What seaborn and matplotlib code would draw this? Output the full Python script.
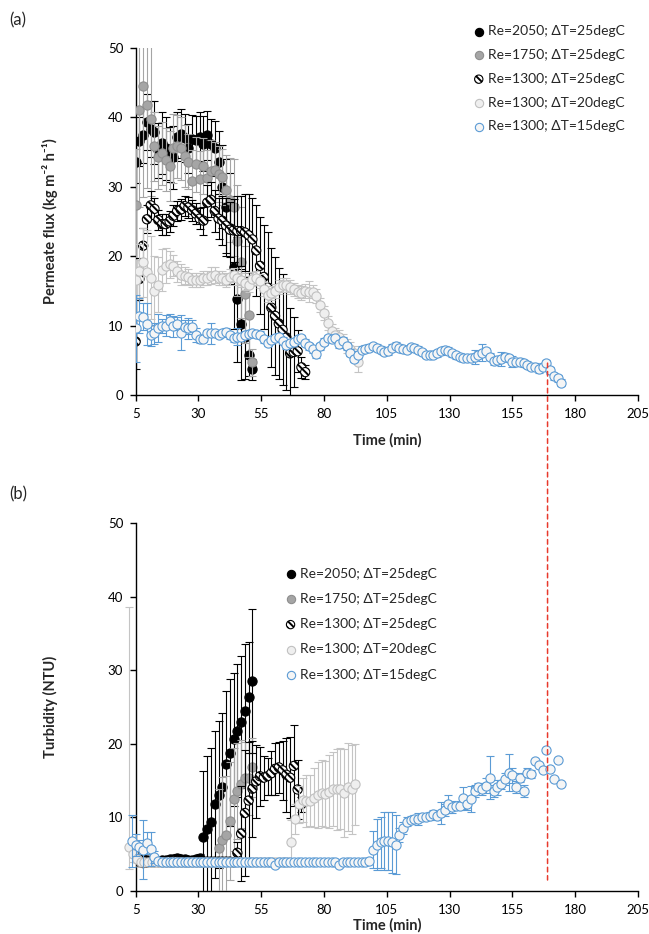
import numpy as np
import matplotlib
matplotlib.use("Agg")
import matplotlib.pyplot as plt
import seaborn as sns
from matplotlib.patches import ConnectionPatch

sns.set_style("ticks")
plt.rcParams["font.family"] = ["Lato", "DejaVu Sans"]
plt.rcParams["hatch.linewidth"] = 1.4
plt.rcParams["hatch.color"] = "black"

# samples were logged every 1.5 min
STEP = 1.5

labels = ["Re=2050; ΔT=25degC", "Re=1750; ΔT=25degC", "Re=1300; ΔT=25degC",
          "Re=1300; ΔT=20degC", "Re=1300; ΔT=15degC"]

# ---------- (a) permeate flux ----------
flux_2050_t0 = 5
flux_2050 = [33.5, 36.5, 37.4, 39.3, 38.3, 37.8, 35.2, 36.3, 35.5, 34.6,
             34.2, 37.2, 37.6, 37.0, 35.5, 36.8, 36.7, 37.2, 36.2, 37.4,
             36.2, 35.5, 33.5, 30.0, 27.0, 24.0, 18.5, 13.8, 10.2, 8.3,
             5.8, 3.7]
flux_2050_err = [3.0, 3.5, 4.0, 4.0, 4.0, 4.5, 4.0, 4.5, 4.5, 4.0,
                 4.5, 3.5, 3.5, 3.5, 3.5, 3.5, 3.5, 3.5, 4.0, 3.5,
                 3.5, 4.0, 4.5, 6.0, 7.0, 8.0, 9.0, 9.0, 8.0, 6.0,
                 3.0, 1.5]

flux_1750_t0 = 5
flux_1750 = [27.4, 41.0, 44.5, 41.8, 39.7, 35.8, 34.2, 34.8, 33.9, 33.0,
             35.5, 35.8, 35.5, 34.4, 33.6, 30.8, 33.2, 31.1, 33.0, 31.2,
             32.2, 32.4, 31.8, 31.4, 29.5, 28.1, 27.0, 22.2, 19.1, 14.5,
             11.5, 4.7]
flux_1750_err = [8.0, 14.0, 16.0, 12.0, 11.0, 5.0, 4.5, 4.5, 4.5, 5.0,
                 5.0, 4.5, 4.5, 4.5, 4.0, 4.5, 4.0, 4.0, 4.0, 4.0,
                 4.5, 4.0, 4.0, 4.0, 5.0, 6.0, 7.0, 8.0, 8.0, 7.0,
                 6.0, 2.0]

flux_1300_25_t0 = 5
flux_1300_25 = [7.7, 16.7, 21.5, 25.3, 27.3, 26.8, 25.2, 24.6, 24.6, 25.0,
                25.8, 26.5, 26.7, 27.2, 27.0, 26.6, 26.1, 25.4, 25.1, 27.7,
                28.1, 26.5, 25.4, 25.1, 24.4, 23.8, 23.7, 23.6, 23.6, 23.4,
                23.0, 22.4, 20.8, 18.6, 17.0, 15.5, 12.6, 11.4, 10.3, 9.4,
                8.3, 6.0, 6.2, 6.3, 4.0, 3.3]
flux_1300_25_err = [4.0, 3.0, 2.5, 2.0, 2.0, 1.5, 1.5, 1.5, 1.5, 1.5,
                    1.5, 1.5, 1.5, 1.5, 1.5, 1.5, 1.5, 1.5, 2.0, 2.5,
                    2.5, 3.0, 3.0, 3.5, 4.0, 4.0, 4.5, 5.0, 5.0, 5.5,
                    6.0, 6.0, 6.5, 7.0, 7.5, 8.0, 8.5, 8.5, 8.0, 8.0,
                    7.5, 6.5, 5.0, 3.0, 1.5, 1.0]

flux_1300_20_t0 = 5
flux_1300_20 = [16.5, 17.8, 19.1, 17.7, 16.9, 15.0, 15.9, 18.0, 18.6, 18.8,
                18.6, 17.8, 17.3, 17.2, 17.0, 16.6, 16.6, 16.6, 16.8, 16.9,
                17.2, 17.3, 16.9, 16.8, 16.6, 17.0, 17.3, 16.8, 16.6, 16.1,
                15.9, 16.7, 16.9, 16.4, 15.3, 14.4, 14.7, 15.0, 15.5, 15.8,
                15.9, 15.5, 15.2, 14.9, 14.7, 15.0, 14.9, 14.9, 14.2, 13.0,
                11.8, 10.4, 9.2, 8.6, 8.3, 7.8, 7.1, 6.6, 6.0, 4.8]
flux_1300_20_err = [3.0, 4.0, 5.0, 6.0, 6.0, 5.0, 4.0, 3.0, 2.5, 2.0,
                    1.5, 1.5, 1.5, 1.2, 1.2, 1.0, 1.0, 1.0, 1.0, 1.0,
                    1.2, 1.2, 1.0, 1.0, 1.0, 1.2, 1.0, 1.0, 1.0, 1.0,
                    1.0, 1.0, 1.0, 1.0, 1.0, 1.0, 1.0, 1.0, 1.0, 1.0,
                    1.0, 1.0, 1.0, 1.0, 1.0, 1.0, 1.5, 1.0, 1.0, 1.0,
                    1.0, 1.0, 1.0, 1.0, 1.0, 1.0, 1.0, 1.0, 1.0, 1.5]

flux_1300_15_t0 = 5
flux_1300_15 = [9.6, 11.4, 11.3, 10.2, 8.6, 8.9, 9.6, 9.9, 10.0, 10.6,
                9.9, 10.3, 9.0, 9.8, 9.6, 9.8, 8.6, 8.0, 8.1, 8.9,
                8.9, 8.9, 8.7, 8.9, 9.1, 8.6, 8.2, 8.4, 8.4, 8.7,
                8.8, 8.9, 8.8, 8.7, 8.0, 7.5, 7.9, 8.2, 8.4, 7.8,
                7.2, 7.5, 7.7, 8.0, 8.2, 7.5, 7.0, 6.6, 5.9, 7.0,
                7.7, 8.2, 8.1, 8.2, 7.3, 7.8, 7.0, 6.1, 5.2, 5.8,
                6.5, 6.7, 6.8, 7.0, 6.8, 6.5, 6.2, 6.3, 6.8, 7.1,
                6.8, 6.6, 6.5, 6.9, 6.8, 6.5, 6.2, 5.8, 5.8, 5.8,
                6.0, 6.3, 6.5, 6.4, 6.0, 5.7, 5.5, 5.4, 5.3, 5.4,
                5.5, 5.8, 6.1, 6.3, 5.5, 4.9, 5.0, 5.2, 5.5, 5.3,
                4.8, 4.8, 4.8, 4.6, 4.4, 4.1, 4.1, 3.7, 4.1, 4.6,
                3.6, 2.7, 2.4, 1.8]
flux_1300_15_err = [4.8, 2.5, 2.0, 3.0, 1.5, 1.5, 2.0, 1.0, 1.5, 1.0,
                    1.5, 1.0, 2.5, 1.0, 1.5, 1.0, 1.0, 0.5, 0.5, 0.5,
                    1.5, 0.5, 0.5, 0.5, 0.5, 0.5, 0.5, 1.2, 0.5, 0.5,
                    0.5, 0.5, 0.5, 0.5, 0.5, 0.5, 0.5, 0.5, 0.5, 0.5,
                    0.5, 0.5, 0.5, 0.5, 0.5, 0.5, 0.5, 0.5, 0.5, 0.5,
                    0.5, 0.5, 0.5, 0.5, 0.5, 0.5, 0.5, 0.5, 0.5, 0.5,
                    0.5, 0.5, 0.5, 0.5, 0.5, 0.5, 0.5, 0.5, 0.5, 0.5,
                    0.5, 0.5, 0.5, 0.5, 0.5, 0.5, 0.5, 0.5, 0.5, 0.5,
                    0.5, 0.5, 0.5, 0.5, 0.5, 0.5, 0.5, 0.5, 0.5, 0.5,
                    1.0, 0.5, 1.2, 0.5, 0.5, 0.5, 0.5, 1.0, 0.5, 0.5,
                    0.8, 0.5, 0.5, 0.5, 0.5, 0.5, 0.5, 0.5, 0.5, 0.5,
                    0.5, 0.5, 0.5, 0.5]

# ---------- (b) turbidity ----------
turb_2050_t0 = 5
turb_2050 = [5.5, 4.8, 4.3, 4.2, 4.2, 4.1, 4.1, 4.2, 4.2, 4.3,
             4.4, 4.5, 4.4, 4.3, 4.2, 4.2, 4.3, 4.5, 7.3, 8.4,
             9.4, 11.8, 13.1, 14.2, 17.2, 18.8, 20.6, 21.8, 23.0, 24.5,
             26.3, 28.5]
turb_2050_err = [1.0, 0.5, 0.3, 0.3, 0.3, 0.3, 0.3, 0.3, 0.3, 0.3,
                 0.4, 0.5, 0.4, 0.3, 0.3, 0.3, 0.3, 0.5, 9.0, 10.0,
                 10.0, 10.0, 10.0, 10.0, 10.0, 10.0, 9.0, 9.0, 9.0, 9.0,
                 7.5, 9.8]

turb_1750_t0 = 5
turb_1750 = [4.3, 4.0, 3.9, 4.0, 4.0, 4.0, 4.0, 4.0, 4.0, 4.0,
             4.0, 4.0, 4.0, 4.0, 4.0, 4.0, 4.0, 4.0, 4.0, 4.0,
             4.0, 4.0, 5.8, 7.0, 7.6, 9.5, 12.5, 13.6, 14.5, 15.3,
             15.3, 16.8]
turb_1750_err = [0.5, 0.3, 0.3, 0.3, 0.3, 0.3, 0.3, 0.3, 0.3, 0.3,
                 0.3, 0.3, 0.3, 0.3, 0.3, 0.3, 0.3, 0.3, 0.3, 0.3,
                 0.3, 0.3, 8.0, 8.5, 8.0, 8.0, 7.0, 6.5, 6.0, 5.0,
                 5.0, 4.0]

turb_1300_25_t0 = 5
turb_1300_25 = [4.6, 4.0, 3.8, 3.9, 4.0, 4.0, 4.0, 4.0, 4.0, 4.1,
                4.1, 4.1, 4.0, 4.0, 4.0, 4.0, 4.0, 4.0, 4.0, 4.0,
                4.0, 4.0, 4.0, 4.0, 4.0, 4.0, 3.9, 5.2, 7.8, 10.6,
                12.3, 13.9, 14.9, 15.6, 15.4, 15.6, 16.0, 16.6, 16.8, 16.4,
                15.8, 15.4, 17.0, 13.8, 11.8]
turb_1300_25_err = [0.8, 0.3, 0.3, 0.3, 0.3, 0.3, 0.3, 0.3, 0.3, 0.3,
                    0.3, 0.3, 0.3, 0.3, 0.3, 0.3, 0.3, 0.3, 0.3, 0.3,
                    0.3, 0.3, 0.3, 0.3, 0.3, 0.3, 0.3, 1.5, 6.5, 8.5,
                    8.0, 6.5, 5.0, 4.0, 3.0, 2.5, 3.0, 3.5, 3.5, 4.0,
                    5.0, 5.5, 5.5, 4.0, 1.0]

turb_1300_20_t0 = 2.5
turb_1300_20 = [6.0, 5.0, 4.3, 4.0, 4.0, 4.0, 4.0, 4.0, 4.0, 4.0,
                4.0, 4.0, 4.0, 4.0, 4.0, 4.0, 4.0, 4.0, 4.0, 4.0,
                4.0, 4.0, 4.0, 4.0, 4.0, 4.0, 4.0, 4.0, 4.0, 4.0,
                4.0, 4.0, 4.0, 4.0, 4.0, 4.0, 4.0, 4.0, 4.0, 4.0,
                4.0, 4.0, 4.0, 6.7, 9.8, 11.8, 12.4, 12.2, 12.3, 12.7,
                13.0, 13.3, 13.2, 13.5, 13.9, 13.8, 13.9, 13.3, 14.1, 13.8,
                14.5]
turb_1300_20_err = [3.0, 1.0, 0.5, 0.3, 0.3, 0.3, 0.3, 0.3, 0.3, 0.3,
                    0.3, 0.3, 0.3, 0.3, 0.3, 0.3, 0.3, 0.3, 0.3, 0.3,
                    0.3, 0.3, 0.3, 0.3, 0.3, 0.3, 0.3, 0.3, 0.3, 0.3,
                    0.3, 0.3, 0.3, 0.3, 0.3, 0.3, 0.3, 0.3, 0.3, 0.3,
                    0.3, 0.3, 0.3, 3.0, 2.0, 2.5, 3.0, 3.5, 3.5, 4.0,
                    4.5, 4.5, 4.5, 5.0, 5.0, 5.5, 5.5, 6.0, 6.0, 6.0,
                    5.5]
turb_1300_20_first_up = 32.6

turb_1300_15_t0 = 3.5
turb_1300_15 = [6.8, 6.3, 6.0, 5.6, 6.5, 5.7, 4.6, 4.1, 4.0, 4.0,
                4.0, 4.0, 3.9, 4.0, 4.0, 4.0, 3.9, 4.0, 4.0, 4.0,
                4.0, 4.0, 4.0, 4.0, 4.0, 4.0, 4.0, 4.0, 4.0, 3.9,
                4.0, 4.0, 4.0, 4.0, 4.0, 4.0, 4.0, 3.9, 3.6, 4.0,
                4.0, 4.0, 4.0, 4.0, 4.0, 4.0, 4.0, 4.0, 4.0, 3.9,
                4.0, 4.0, 4.0, 4.0, 4.0, 3.6, 4.0, 4.0, 4.0, 4.0,
                4.0, 4.0, 4.0, 4.1, 5.6, 6.3, 6.6, 6.8, 6.8, 6.6,
                6.3, 7.6, 8.6, 9.4, 9.7, 9.8, 9.8, 10.0, 10.1, 10.2,
                10.5, 10.2, 10.6, 11.0, 11.8, 11.4, 11.5, 11.6, 12.6, 11.8,
                12.5, 13.6, 14.1, 13.9, 14.3, 15.4, 13.6, 14.1, 14.5, 15.2,
                16.1, 15.7, 14.1, 15.4, 13.6, 16.1, 15.9, 17.7, 17.1, 16.4,
                19.1, 16.6, 15.2, 17.8, 14.5]
turb_1300_15_err = [3.5, 1.5, 1.0, 4.0, 1.5, 2.3, 0.8, 0.3, 0.3, 0.3,
                    0.3, 0.3, 0.3, 0.3, 0.3, 0.3, 0.3, 0.3, 0.3, 0.3,
                    0.3, 0.3, 0.3, 0.3, 0.3, 0.3, 0.3, 0.3, 0.3, 0.3,
                    0.3, 0.3, 0.3, 0.3, 0.3, 0.3, 0.3, 0.3, 0.3, 0.3,
                    0.3, 0.3, 0.3, 0.3, 0.3, 0.3, 0.3, 0.3, 0.3, 0.3,
                    0.3, 0.3, 0.3, 0.3, 0.3, 0.3, 0.3, 0.3, 0.3, 0.3,
                    0.3, 0.3, 0.3, 0.3, 2.5, 3.5, 3.5, 4.0, 4.0, 4.2,
                    4.0, 1.0, 0.8, 0.6, 0.5, 0.5, 0.8, 0.5, 0.5, 0.6,
                    0.5, 0.5, 1.5, 0.8, 1.2, 0.8, 0.5, 0.6, 1.5, 0.8,
                    1.8, 0.8, 0.6, 0.8, 1.0, 2.9, 0.8, 1.0, 0.6, 0.8,
                    2.5, 1.0, 0.8, 0.6, 0.8, 0.6, 0.5, 0.0, 0.0, 0.0,
                    0.0, 0.0, 0.0, 0.0, 0.0]

# time where the run was stopped (red dashed marker)
cutoff_time = 169
cutoff_flux = 4.6

styles = [
    dict(face="black", edge="black", ecolor="black", hatch=None),
    dict(face="#a5a5a5", edge="#8e8e8e", ecolor="#a5a5a5", hatch=None),
    dict(face="white", edge="black", ecolor="black", hatch="\\\\\\\\\\"),
    dict(face="#efefef", edge="#c0c0c0", ecolor="#c4c4c4", hatch=None),
    dict(face="#f5f5f5", edge="#5b9bd5", ecolor="#5b9bd5", hatch=None),
]


def draw_series(ax, t0, vals, errs, st, z, clip=True, first_up=None):
    t = t0 + STEP * np.arange(len(vals))
    up = list(errs)
    if first_up is not None:
        up[0] = first_up
    eb = ax.errorbar(t, vals, yerr=[errs, up], fmt="none", ecolor=st["ecolor"],
                     elinewidth=0.8, capsize=3, capthick=0.8, zorder=z)
    for art in eb.get_children():
        art.set_clip_on(clip)
    sns.scatterplot(x=t, y=vals, ax=ax, s=44, color=st["face"], edgecolor=st["edge"],
                    linewidth=0.8, hatch=st["hatch"], zorder=z + 0.5, legend=False,
                    clip_on=clip)
    return ax.collections[-1]


fig = plt.figure(figsize=(6.49, 9.34), dpi=100)
ax_a = fig.add_axes([0.209, 0.577, 0.774, 0.372])
ax_b = fig.add_axes([0.209, 0.046, 0.774, 0.394])

series_a = [(flux_2050_t0, flux_2050, flux_2050_err),
            (flux_1750_t0, flux_1750, flux_1750_err),
            (flux_1300_25_t0, flux_1300_25, flux_1300_25_err),
            (flux_1300_20_t0, flux_1300_20, flux_1300_20_err),
            (flux_1300_15_t0, flux_1300_15, flux_1300_15_err)]
handles_a = []
for i, (t0, v, e) in enumerate(series_a):
    handles_a.append(draw_series(ax_a, t0, v, e, styles[i], 2 + i))

series_b = [(turb_2050_t0, turb_2050, turb_2050_err, True, None),
            (turb_1750_t0, turb_1750, turb_1750_err, True, None),
            (turb_1300_25_t0, turb_1300_25, turb_1300_25_err, True, None),
            (turb_1300_20_t0, turb_1300_20, turb_1300_20_err, False, turb_1300_20_first_up),
            (turb_1300_15_t0, turb_1300_15, turb_1300_15_err, False, None)]
handles_b = []
for i, (t0, v, e, clip, fu) in enumerate(series_b):
    handles_b.append(draw_series(ax_b, t0, v, e, styles[i], 2 + i, clip=clip, first_up=fu))

for ax in (ax_a, ax_b):
    ax.set_xlim(5, 205)
    ax.set_ylim(0, 50)
    ax.set_xticks(range(5, 206, 25))
    ax.set_yticks(range(0, 51, 10))
    sns.despine(ax=ax)
    for sp in ("left", "bottom"):
        ax.spines[sp].set_color("black")
        ax.spines[sp].set_linewidth(1.0)
    ax.tick_params(direction="out", length=4, width=1, labelsize=9.5, pad=5, colors="black")
    ax.set_facecolor("none")
    ax.set_xlabel("Time (min)", fontsize=10.5, fontweight="bold")
    ax.yaxis.set_label_coords(-0.155, 0.5)

ax_a.set_ylabel("Permeate flux (kg m⁻² h⁻¹)", fontsize=10.5, fontweight="bold")
ax_b.set_ylabel("Turbidity (NTU)", fontsize=10.5, fontweight="bold")
ax_a.xaxis.set_label_coords(0.5, -0.108)
ax_b.xaxis.set_label_coords(0.5, -0.074)

ax_a.legend(handles_a, labels, loc="upper left", bbox_to_anchor=(0.727, 0.973),
            bbox_transform=fig.transFigure, frameon=False, fontsize=10,
            handlelength=1.0, handletextpad=0.2, labelspacing=0.85,
            borderpad=0, borderaxespad=0, markerscale=0.9)
ax_b.legend(handles_b, labels, loc="upper left", bbox_to_anchor=(0.437, 0.392),
            bbox_transform=fig.transFigure, frameon=False, fontsize=10,
            handlelength=1.0, handletextpad=0.2, labelspacing=0.95,
            borderpad=0, borderaxespad=0, markerscale=0.9)

fig.text(0.015, 1 - 20 / 934, "(a)", fontsize=12, va="center")
fig.text(0.015, 1 - 494 / 934, "(b)", fontsize=12, va="center")

con = ConnectionPatch(xyA=(cutoff_time, cutoff_flux), coordsA=ax_a.transData,
                      xyB=(cutoff_time, 1.5), coordsB=ax_b.transData,
                      color="#e8392c", linewidth=1.1, linestyle=(0, (3, 2.5)), zorder=10)
fig.add_artist(con)

fig.savefig("out.png", dpi=100)
